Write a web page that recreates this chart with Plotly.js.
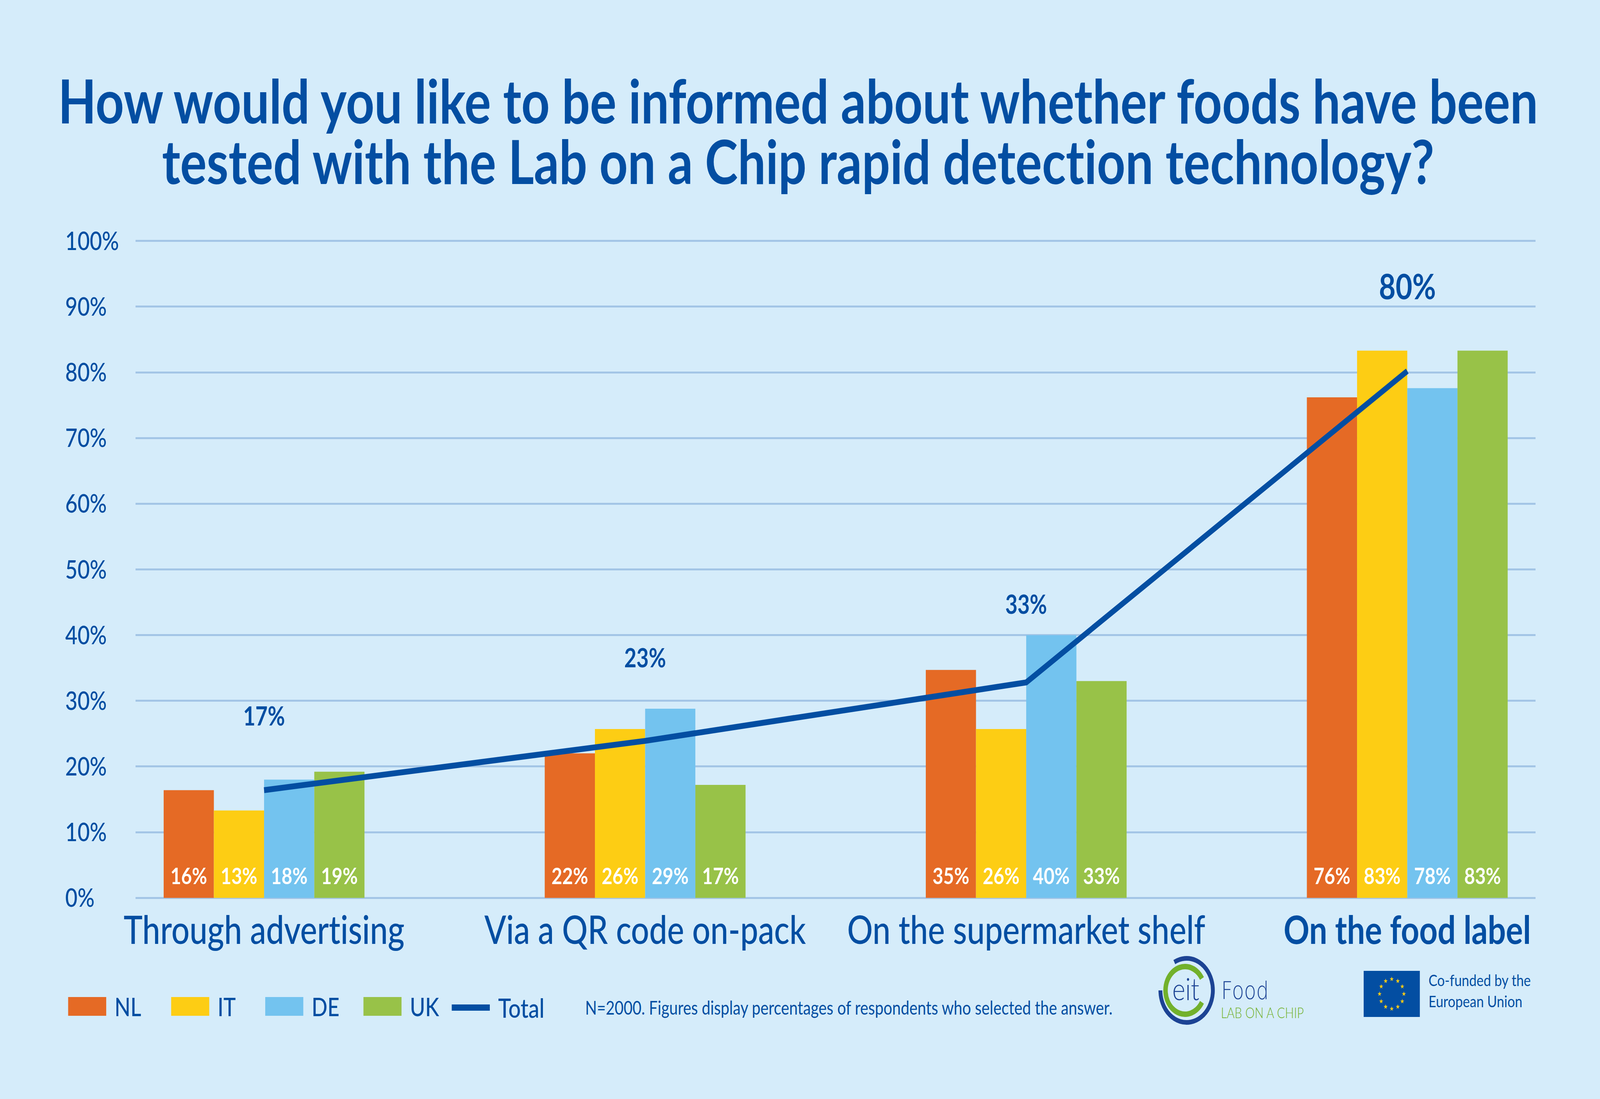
<!DOCTYPE html>
<html><head><meta charset="utf-8">
<script src="https://cdn.plot.ly/plotly-3.0.1.min.js"></script>
<style>html,body{margin:0;padding:0;background:#d5ecfa;overflow:hidden}
#chart{width:5001px;height:2813px;transform-origin:0 0}
svg text{font-variant-ligatures:none;font-feature-settings:"liga" 0}</style></head>
<body><div id="chart"></div>
<script>
const categories = ['Through advertising','Via a QR code on-pack','On the supermarket shelf','On the food label'];
const NL = [16.4, 22.0, 34.7, 76.2];
const IT = [13.3, 25.7, 25.7, 83.3];
const DE = [18.0, 28.8, 40.0, 77.6];
const UK = [19.2, 17.2, 33.0, 83.3];
const Total = [16.4, 23.9, 32.8, 80.2];
const totalLabels = ['17%','23%','33%','80%'];
const seriesNames = ['NL','IT','DE','UK'];
const seriesColors = ['#e56a25','#fdcd14','#73c3ef','#98c248'];
const seriesValues = [NL, IT, DE, UK];
const yTickValues = [0,10,20,30,40,50,60,70,80,90,100];
const yTickLabels = ['0%','10%','20%','30%','40%','50%','60%','70%','80%','90%','100%'];
const title1 = 'How would you like to be informed about whether foods have been';
const title2 = 'tested with the Lab on a Chip rapid detection technology?';
const note = 'N=2000. Figures display percentages of respondents who selected the answer.';

const W = 5001, H = 2813, FONT = 'Lato, "Open Sans", sans-serif';
const BLUE = '#034ea2', BG = '#d5ecfa', GRID = '#a3c5e6', NAVY = '#1c4394', LEAF = '#72b12b';
const L = 200, R = 201, T = 600, B = H - 2315;
const PW = W - L - R, PH = H - T - B;
const xp = v => (v - L) / PW, yp = v => (H - B - v) / PH;
const catIdx = categories.map((_, i) => i);
const tickLabels = categories.map((c, i) => i === 3 ? '<b>' + c + '</b>' : c);

const txt = (text, x, y, size, color, weight, family) => ({text, xref: 'paper', yref: 'paper',
  x: xp(x), y: yp(y), xanchor: 'left', yanchor: 'middle', showarrow: false, align: 'left',
  font: {family: family || FONT, size, color, weight: weight || 400}});

const traces = seriesNames.map((n, k) => ({
  type: 'bar', name: n, x: catIdx, y: seriesValues[k],
  marker: {color: seriesColors[k], line: {width: 0}},
  texttemplate: '%{y:.0f}%', textposition: 'inside', insidetextanchor: 'start',
  textangle: 0, constraintext: 'none',
  insidetextfont: {family: FONT, size: 58, color: '#ffffff', weight: 700},
  hoverinfo: 'skip', cliponaxis: false
}));
traces.push({type: 'scatter', mode: 'lines', name: 'Total', x: catIdx, y: Total,
  line: {color: BLUE, width: 15, shape: 'linear'}, hoverinfo: 'skip', cliponaxis: false});

// legend row, drawn to the original's proportions
const legendX = [213, 535, 829, 1136];
const shapes = [], annotations = [];
seriesNames.forEach((n, k) => {
  shapes.push({type: 'rect', xref: 'paper', yref: 'paper', layer: 'above',
    x0: xp(legendX[k]), x1: xp(legendX[k] + 119), y0: yp(2600), y1: yp(2552),
    fillcolor: seriesColors[k], line: {width: 0}});
  annotations.push(txt(n, legendX[k] + 143, 2576, 65, BLUE, 500));
});
shapes.push({type: 'line', xref: 'paper', yref: 'paper', layer: 'above',
  x0: xp(1412), x1: xp(1531), y0: yp(2579), y1: yp(2579), line: {color: BLUE, width: 16}});
annotations.push(txt('Total', 1555, 2578, 68, BLUE, 500));
annotations.push(txt(note, 1827, 2578, 48, BLUE, 400));

// total labels, tied to the line's values
const lift = [191, 214, 201, 219], sizes = [66, 66, 66, 90];
totalLabels.forEach((t, i) => annotations.push({text: '<b>' + t + '</b>', x: i, y: Total[i], xref: 'x', yref: 'y',
  xanchor: 'center', yanchor: 'middle', yshift: lift[i], showarrow: false,
  font: {family: FONT, size: sizes[i], color: BLUE}}));

// logos
annotations.push(txt('eit', 3662, 2530, 78, NAVY, 300));
annotations.push(txt('Food', 3815, 2535, 62, NAVY, 200, '"DejaVu Sans ExtraLight","DejaVu Sans"'));
annotations.push(txt('LAB ON A CHIP', 3814, 2591, 37, LEAF, 300));
annotations.push(txt('Co-funded by the<br>European Union', 4463, 2535, 41.5, BLUE, 400));

const arc = (cx, cy, r, a0, a1, col, sw) => {
  const p = a => [cx + r * Math.cos(a * Math.PI / 180), cy - r * Math.sin(a * Math.PI / 180)];
  const [x0, y0] = p(a0), [x1, y1] = p(a1);
  return `<path d="M${x0} ${y0}A${r} ${r} 0 1 1 ${x1} ${y1}" fill="none" stroke="${col}" stroke-width="${sw}"/>`;
};
const ring = `<svg xmlns="http://www.w3.org/2000/svg" width="200" height="200" viewBox="0 0 200 200">` +
  arc(99, 100, 82, 118, 180, NAVY, 12) + arc(94, 100, 61, -30, 30, LEAF, 14) + `</svg>`;
let stars = '';
for (let i = 0; i < 12; i++) {
  const a = i * Math.PI / 6, cx = 88 + 38 * Math.sin(a), cy = 59 - 38 * Math.cos(a);
  let pts = [];
  for (let j = 0; j < 10; j++) {
    const r = j % 2 ? 2.6 : 6.5, b = j * Math.PI / 5;
    pts.push((cx + r * Math.sin(b)).toFixed(1) + ',' + (cy - r * Math.cos(b)).toFixed(1));
  }
  stars += `<polygon points="${pts.join(' ')}" fill="#fdcd14"/>`;
}
const flag = `<svg xmlns="http://www.w3.org/2000/svg" width="176" height="118" viewBox="0 0 176 118"><rect width="176" height="118" fill="${BLUE}"/>${stars}</svg>`;
const uri = s => 'data:image/svg+xml;charset=utf-8,' + encodeURIComponent(s);

const layout = {
  width: W, height: H, paper_bgcolor: BG, plot_bgcolor: BG, showlegend: false,
  barmode: 'group', bargap: 0.473, bargroupgap: 0,
  margin: {l: L, r: R, t: T, b: B, pad: 0},
  title: {text: title1 + '<br>' + title2, x: 0.4988, xanchor: 'center', xref: 'container', yref: 'container', y: 0.8875, yanchor: 'top',
    font: {family: FONT, size: 155, color: BLUE, weight: 700}},
  font: {family: FONT, color: BLUE},
  xaxis: {type: 'linear', domain: [(424 - L) / PW, 1], range: [-0.337, 3.337],
    tickmode: 'array', tickvals: catIdx, ticktext: tickLabels, ticks: '',
    showgrid: false, zeroline: false, showline: false,
    ticklabelstandoff: 0, tickfont: {family: FONT, size: 100, color: BLUE, weight: 500}},
  yaxis: {range: [-1, 101], tickmode: 'array', tickvals: yTickValues, ticktext: yTickLabels,
    anchor: 'free', position: 0, ticklabelposition: 'inside', ticklabeloverflow: 'allow',
    ticks: '', showline: false, showgrid: true, gridcolor: GRID, gridwidth: 5,
    zeroline: true, zerolinecolor: GRID, zerolinewidth: 5,
    tickfont: {family: FONT, size: 66, color: BLUE, weight: 500}},
  shapes, annotations,
  images: [
    {source: uri(ring), xref: 'paper', yref: 'paper', x: xp(3610), y: yp(2435), sizex: 200 / PW, sizey: 200 / PH, xanchor: 'left', yanchor: 'top', sizing: 'stretch', layer: 'above'},
    {source: uri(flag), xref: 'paper', yref: 'paper', x: xp(4262), y: yp(2485), sizex: 176 / PW, sizey: 118 / PH, xanchor: 'left', yanchor: 'top', sizing: 'stretch', layer: 'above'}
  ]
};
Plotly.newPlot('chart', traces, layout, {displayModeBar: false, responsive: false}).then(gd => {
  document.querySelectorAll('.gtitle tspan.line').forEach((t, i) => { if (i) t.setAttribute('dy', '0.995em'); });
  document.querySelectorAll('.bartext').forEach(t => {
    t.setAttribute('transform', 'translate(0,-20) ' + (t.getAttribute('transform') || ''));
  });
  // the browser window may be narrower than the reference: fit the whole chart into it
  const sx = Math.min(1, window.innerWidth / W), sy = Math.min(1, window.innerHeight / H);
  gd.style.transform = `scale(${sx},${sy})`;
});
</script></body></html>
